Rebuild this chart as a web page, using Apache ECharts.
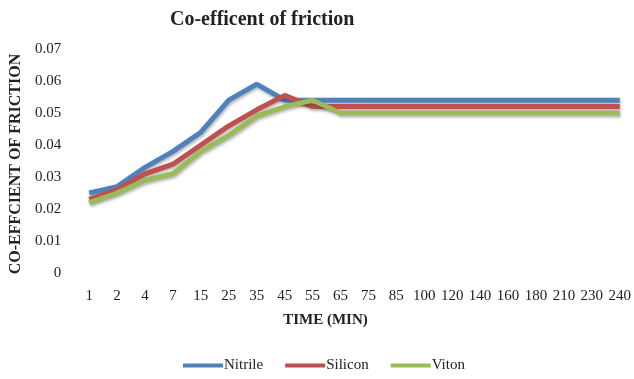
<!DOCTYPE html>
<html><head><meta charset="utf-8">
<script src="https://cdn.jsdelivr.net/npm/echarts@6/dist/echarts.min.js"></script>
<style>html,body{margin:0;padding:0;background:#fff}#c{width:634px;height:379px}</style>
</head><body><div id="c"></div>
<script>
const categories = ['1','2','4','7','15','25','35','45','55','65','75','85','100','120','140','160','180','210','230','240'];
const nitrile = [0.025,0.027,0.033,0.038,0.044,0.054,0.059,0.054,0.054,0.054,0.054,0.054,0.054,0.054,0.054,0.054,0.054,0.054,0.054,0.054];
const silicon = [0.023,0.026,0.031,0.034,0.040,0.046,0.051,0.0555,0.052,0.052,0.052,0.052,0.052,0.052,0.052,0.052,0.052,0.052,0.052,0.052];
const viton = [0.022,0.025,0.029,0.031,0.038,0.043,0.049,0.052,0.054,0.050,0.050,0.050,0.050,0.050,0.050,0.050,0.050,0.050,0.050,0.050];
const seriesNames = ['Nitrile','Silicon','Viton'];
const colors = ['#4F81BD','#C0504D','#9BBB59'];
const serif = 'Liberation Serif';

const chart = echarts.init(document.getElementById('c'));
const mk = (name, data, color) => ({
  name, type: 'line', data, symbol: 'none', smooth: false,
  lineStyle: {width: 5, color, shadowColor: 'rgba(0,0,0,0.3)', shadowBlur: 3, shadowOffsetY: 2, shadowOffsetX: 1},
  itemStyle: {color}
});
chart.setOption({
  animation: false,
  textStyle: {fontFamily: serif},
  title: {text: 'Co-efficent of friction', left: 165, top: 5,
    textStyle: {fontFamily: serif, fontWeight: 'bold', fontSize: 20, color: '#222'}},
  legend: {bottom: 1, left: 178, icon: 'rect', itemWidth: 40, itemHeight: 4, itemGap: 22,
    formatter: '{s|{name}}',
    textStyle: {fontFamily: serif, fontSize: 15, color: '#222', padding: [0, 0, 0, -4],
      rich: {s: {fontFamily: serif, fontSize: 15, color: '#222'}}}, data: seriesNames},
  grid: {left: 88, right: 10, top: 49, bottom: 106},
  xAxis: {type: 'category', data: categories, boundaryGap: false,
    axisLine: {show: false}, axisTick: {show: false},
    axisLabel: {fontFamily: serif, fontSize: 15, color: '#222', margin: 16, interval: 0},
    name: 'TIME (MIN)', nameLocation: 'middle', nameGap: 40,
    nameTextStyle: {fontFamily: serif, fontWeight: 'bold', fontSize: 15, color: '#222', padding: [0, 58, 0, 0]}},
  yAxis: {type: 'value', min: 0, max: 0.07, interval: 0.01,
    splitLine: {show: false}, axisLine: {show: false}, axisTick: {show: false},
    axisLabel: {fontFamily: serif, fontSize: 15, color: '#222', margin: 28,
      formatter: v => v === 0 ? '0' : v.toFixed(2)},
    name: 'CO-EFFCIENT OF FRICTION', nameLocation: 'middle', nameGap: 62,
    nameTextStyle: {fontFamily: serif, fontWeight: 'bold', fontSize: 16, color: '#222', padding: [0, 6, 0, 0]}},
  series: [mk(seriesNames[0], nitrile, colors[0]), mk(seriesNames[1], silicon, colors[1]), mk(seriesNames[2], viton, colors[2])]
});
</script></body></html>
